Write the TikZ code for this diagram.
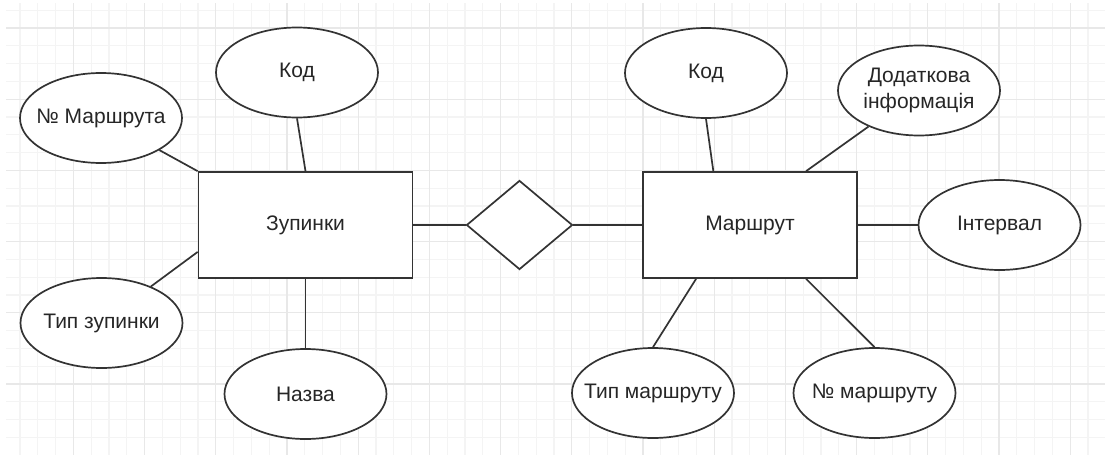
\documentclass[tikz,border=0pt]{standalone}
\usepackage{fontspec}
\setmainfont{Liberation Sans}
\usetikzlibrary{shapes.geometric,calc}
\definecolor{edgegray}{RGB}{51,51,51}
\definecolor{gridminor}{RGB}{244,244,244}
\definecolor{gridmajor}{RGB}{232,232,232}
\newcommand{\attrtxt}[1]{\makebox[0pt]{#1}}

\begin{document}
\begin{tikzpicture}[
    x=1pt, y=-1pt,
    entity/.style={rectangle, draw=edgegray, line width=1.7pt, fill=white,
                   minimum width=214pt, minimum height=106pt, inner sep=0pt},
    attr/.style={ellipse, draw=edgegray, line width=1.7pt, fill=white,
                 minimum width=162pt, minimum height=90pt, inner sep=0pt},
    relbox/.style={diamond, draw=edgegray, line width=1.7pt, fill=white,
                   minimum width=106pt, minimum height=89pt, inner sep=0pt},
    link/.style={line width=1.7pt, edgegray},
    font=\fontsize{21}{26}\selectfont, text=black!85
]
\useasboundingbox (0,0) rectangle (1105,455);

% grid
\foreach \k in {1,...,61}
    \draw[gridminor, line width=1.2pt] ({2.1+17.8*\k},3) -- ({2.1+17.8*\k},455);
\foreach \k in {0,...,24}
    \draw[gridminor, line width=1.2pt] (6,{10.2+17.8*\k}) -- (1105,{10.2+17.8*\k});
\foreach \k in {1,...,15}
    \draw[gridmajor, line width=1.2pt] ({2.1+71.2*\k},3) -- ({2.1+71.2*\k},455);
\foreach \k in {0,...,5}
    \draw[gridmajor, line width=1.2pt] (6,{28+71.2*\k}) -- (1105,{28+71.2*\k});

% entities and relation
\node[entity] (zup) at (305.5,225) {Зупинки};
\node[relbox] (rel) at (519.5,225) {};
\node[entity] (mar) at (750,225)   {Маршрут};

% attributes of Зупинки
\node[attr] (kodz)  at (297,72.5)  {\attrtxt{Код}};
\node[attr] (nomz)  at (101,118)   {\attrtxt{№ Маршрута}};
\node[attr] (typz)  at (101.5,323) {\attrtxt{Тип зупинки}};
\node[attr] (nazva) at (305.5,394) {\attrtxt{Назва}};

% attributes of Маршрут
\node[attr] (kodm)  at (706,73)    {\attrtxt{Код}};
\node[attr] (dod)   at (919,90.5)  {\attrtxt{\begin{tabular}{@{}c@{}}Додаткова\\інформація\end{tabular}}};
\node[attr] (inter) at (999.5,225) {\attrtxt{Інтервал}};
\node[attr] (typm)  at (653,393)   {\attrtxt{Тип маршруту}};
\node[attr] (nomm)  at (874.5,393) {\attrtxt{№ маршруту}};

% links
\draw[link] (kodz.south) -- (zup.north);
\draw[link] (nomz) -- (zup.north west);
\draw[link] (typz) -- ($(zup.south west)!0.25!(zup.north west)$);
\draw[link] (zup.south) -- (nazva.north);
\draw[link] (zup) -- (rel);
\draw[link] (rel) -- (mar);
\draw[link] (kodm.south) -- ($(mar.north west)!0.33!(mar.north east)$);
\draw[link] (dod) -- ($(mar.north west)!0.76!(mar.north east)$);
\draw[link] (mar) -- (inter);
\draw[link] ($(mar.south west)!0.25!(mar.south east)$) -- (typm.north);
\draw[link] ($(mar.south west)!0.76!(mar.south east)$) -- (nomm.north);
\end{tikzpicture}
\end{document}
